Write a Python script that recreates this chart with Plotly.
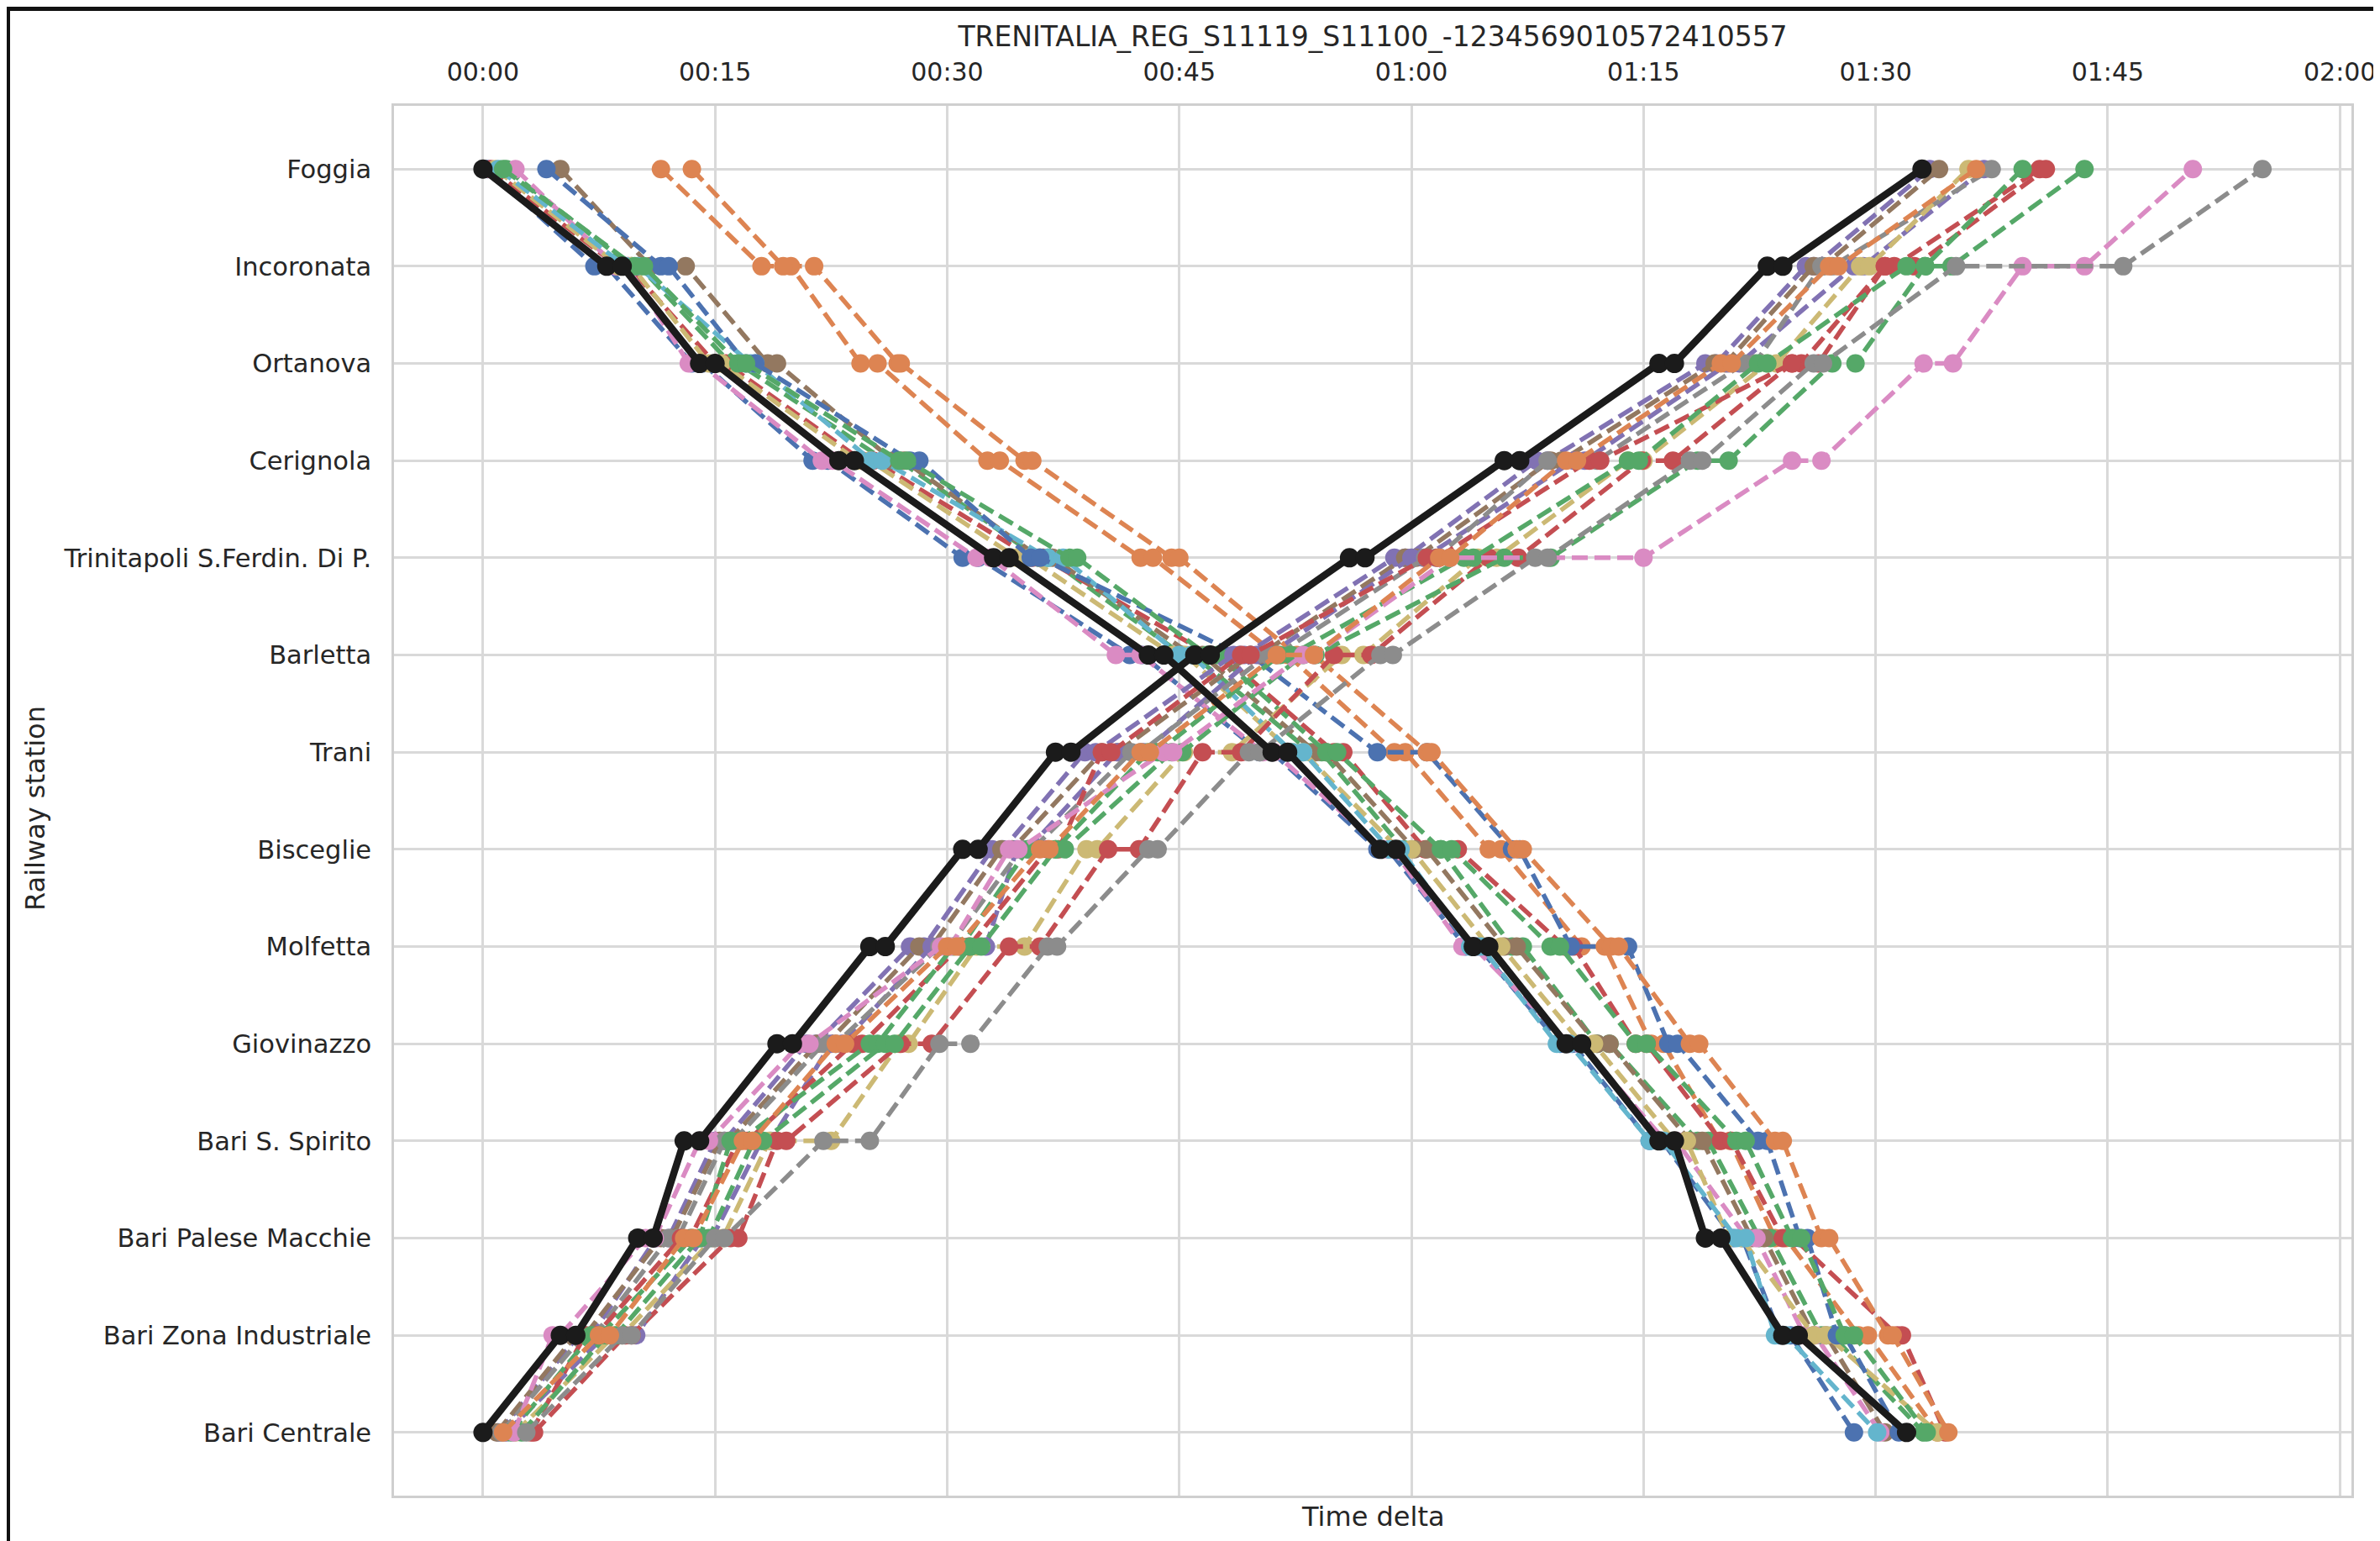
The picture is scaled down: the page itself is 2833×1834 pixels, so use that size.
import plotly.graph_objects as go

# ---------------- data ----------------
stations = ["Foggia", "Incoronata", "Ortanova", "Cerignola", "Trinitapoli S.Ferdin. Di P.",
            "Barletta", "Trani", "Bisceglie", "Molfetta", "Giovinazzo", "Bari S. Spirito",
            "Bari Palese Macchie", "Bari Zona Industriale", "Bari Centrale"]

tick_minutes = [0, 15, 30, 45, 60, 75, 90, 105, 120]
tick_labels = ["00:00", "00:15", "00:30", "00:45", "01:00", "01:15", "01:30", "01:45", "02:00"]

# Southbound (Foggia -> Bari Centrale), minutes [arr, dep] per station
sb_black = [[0], [8, 9], [14, 15], [23, 24], [33, 34], [43, 44], [51, 52], [58, 59], [64, 65], [70, 71], [76, 77], [79, 80], [84, 85], [92]]
sb_blue_a = [[0.3], [7.2, 8.0], [13.5, 14.2], [21.3, 22.3], [31.0, 32.0], [41.8, 42.6], [50.2, 51.0], [57.8, 58.5], [63.5, 64.3], [69.6, 70.4], [75.4, 76.2], [80.8, 81.4], [83.8, 84.5], [88.6]]
sb_olive = [[0.8], [8.8, 9.6], [14.6, 15.4], [24.2, 25.0], [34.5, 35.3], [44.6, 45.4], [52.3, 53.0], [59.2, 60.0], [65.0, 65.8], [71.0, 71.8], [77.0, 77.8], [80.5, 81.3], [86.0, 86.8], [94.0]]
sb_green_a = [[1.5], [9.6, 10.1], [16.0, 16.5], [26.0, 26.9], [35.9, 36.5], [45.2, 45.9], [53.5, 54.2], [59.5, 61.9], [66.5, 67.2], [72.0, 72.8], [78.5, 79.2], [82.5, 83.2], [86.5, 87.2], [93.1]]
sb_green_b = [[1.3], [9.8, 10.4], [16.5, 17.0], [26.9, 27.4], [37.9, 38.4], [46.8, 47.5], [54.5, 55.2], [61.9, 62.6], [69.0, 69.6], [74.5, 75.2], [81.0, 81.6], [84.6, 85.2], [88.0, 88.6], [93.3]]
sb_pink = [[2.1], [8.6, 9.3], [13.3, 14.0], [21.9, 22.6], [31.9, 32.8], [40.9, 42.5], [50.4, 51.1], [58.2, 58.8], [63.3, 64.0], [70.2, 70.9], [76.4, 77.1], [81.7, 82.3], [85.4, 86.1], [90.3]]
sb_blue_b = [[4.1], [11.5, 12.0], [17.0, 17.6], [27.6, 28.2], [35.4, 36.0], [48.9, 49.6], [57.8, 61.0], [66.5, 67.0], [70.3, 74.0], [76.6, 77.2], [82.4, 83.0], [85.1, 85.6], [87.5, 88.0], [91.5]]
sb_brown = [[5.0], [10.8, 13.1], [18.4, 19.0], [26.5, 27.2], [36.0, 36.8], [45.8, 46.5], [53.8, 54.5], [60.2, 61.0], [66.0, 66.8], [72.0, 72.8], [78.0, 78.8], [82.0, 82.8], [86.0, 86.8], [90.6]]
sb_orange_a = [[11.5], [18.0, 19.9], [24.4, 25.5], [32.6, 33.4], [42.5, 43.3], [51.3, 52.0], [58.9, 59.6], [65.0, 65.8], [71.0, 72.5], [75.5, 76.3], [79.9, 80.6], [83.5, 84.2], [88.9, 89.5], [94.0]]
sb_orange_b = [[13.5], [19.4, 21.4], [26.8, 27.0], [35.0, 35.5], [44.5, 45.0], [52.6, 53.7], [61.0, 61.3], [66.8, 67.2], [72.9, 73.4], [78.0, 78.6], [83.5, 84.0], [86.5, 87.0], [90.8, 91.1], [94.7]]
sb_red = [[0.5], [8.7, 9.4], [15.0, 15.7], [24.5, 25.2], [35.5, 36.2], [47.0, 47.8], [55.0, 55.6], [60.9, 63.0], [69.9, 70.5], [74.5, 75.2], [80.0, 80.7], [84.0, 84.7], [91.4, 91.7], [94.5]]
sb_cyan = [[1.0], [9.2, 10.0], [17.3, 17.6], [25.1, 25.8], [36.5, 37.5], [45.0, 45.8], [52.3, 53.0], [58.6, 59.3], [63.8, 64.5], [69.4, 70.2], [75.4, 76.3], [81.0, 81.6], [83.5, 84.2], [90.1]]

# Northbound (Bari Centrale -> Foggia), minutes [arr, dep] per station in travel order
nb_black = [[0], [5, 6], [10, 11], [13, 14], [19, 20], [25, 26], [31, 32], [37, 38], [46, 47], [56, 57], [66, 67], [76, 77], [83, 84], [93]]
nb_purple_a = [[1.0], [6.2, 7.0], [11.2, 12.0], [15.0, 15.6], [20.9, 21.5], [27.6, 28.5], [32.9, 33.6], [38.9, 39.6], [48.5, 49.2], [58.9, 59.6], [68.1, 68.8], [79.0, 79.7], [85.5, 86.0], [93.5]]
nb_brown = [[0.9], [6.0, 6.6], [11.5, 12.2], [15.3, 15.9], [21.6, 22.2], [28.2, 29.0], [33.5, 34.2], [40.0, 41.0], [49.6, 50.2], [59.6, 60.3], [69.0, 69.7], [79.6, 80.3], [86.0, 86.6], [94.1]]
nb_purple_b = [[1.5], [7.9, 9.9], [14.2, 14.8], [18.0, 18.6], [22.5, 23.2], [29.0, 32.5], [34.5, 35.2], [41.0, 42.7], [50.0, 50.8], [60.0, 60.8], [70.5, 71.2], [80.5, 81.2], [88.6, 89.2], [97.0]]
nb_gray_a = [[1.2], [6.5, 7.2], [12.0, 12.6], [15.6, 16.2], [22.0, 22.8], [29.5, 30.1], [34.8, 35.5], [41.9, 42.5], [50.7, 51.3], [60.9, 61.6], [68.8, 72.0], [81.5, 82.2], [86.5, 87.2], [97.5]]
nb_olive = [[2.1], [8.5, 9.0], [14.9, 15.5], [18.5, 22.5], [26.9, 27.5], [31.9, 35.0], [39.0, 39.7], [45.3, 48.4], [55.5, 56.9], [64.3, 65.5], [74.0, 75.0], [83.0, 83.6], [89.0, 89.6], [96.0]]
nb_red_a = [[3.1], [6.6, 7.3], [12.8, 13.4], [16.5, 17.1], [23.9, 24.5], [30.8, 31.4], [36.5, 37.2], [40.0, 40.6], [49.0, 49.6], [61.0, 61.7], [71.5, 72.2], [84.6, 85.2], [90.6, 91.2], [100.6]]
nb_red_b = [[3.3], [9.2, 9.6], [16.0, 16.5], [19.0, 19.6], [27.0, 29.0], [34.0, 36.0], [40.4, 42.4], [46.5, 49.0], [55.0, 57.4], [65.0, 66.9], [74.9, 76.9], [84.6, 86.3], [90.6, 92.5], [101.0]]
nb_green_a = [[1.8], [7.0, 7.6], [13.5, 14.0], [16.0, 16.6], [25.0, 25.5], [30.4, 30.9], [35.2, 37.0], [43.0, 43.6], [51.5, 52.2], [63.4, 64.0], [74.0, 74.7], [82.4, 83.0], [92.0, 93.2], [99.5]]
nb_green_b = [[2.5], [8.0, 8.6], [14.0, 14.6], [17.5, 18.1], [26.0, 26.6], [31.5, 32.2], [37.0, 37.6], [44.5, 45.2], [53.0, 53.8], [66.0, 69.0], [78.5, 80.5], [87.2, 88.7], [93.2, 94.9], [103.5]]
nb_pink = [[2.0], [4.5, 5.0], [10.5, 11.1], [14.0, 14.6], [20.5, 21.1], [29.6, 30.2], [34.0, 34.6], [44.0, 44.6], [53.0, 53.7], [62.5, 75.0], [84.6, 86.5], [93.1, 95.0], [99.5, 103.5], [110.5]]
nb_gray_b = [[2.8], [9.0, 9.6], [15.0, 15.6], [22.0, 25.0], [29.5, 31.5], [36.5, 37.1], [43.0, 43.6], [49.5, 50.2], [58.0, 58.8], [68.0, 68.8], [78.0, 78.8], [86.0, 86.6], [95.2, 106.0], [115.0]]
nb_orange = [[1.3], [7.5, 8.2], [13.0, 13.6], [16.8, 17.4], [22.8, 23.4], [30.0, 30.6], [36.0, 36.6], [42.5, 43.1], [51.3, 53.7], [61.8, 62.5], [70.0, 70.7], [80.0, 80.7], [87.0, 87.6], [96.5]]

# ---------------- styling ----------------
C = {"blue": "#4C72B0", "orange": "#DD8452", "green": "#55A868", "red": "#C44E52",
     "purple": "#8172B3", "brown": "#937860", "pink": "#DA8BC3", "gray": "#8C8C8C",
     "olive": "#CCB974", "cyan": "#64B5CD", "black": "#1b1b1b"}

sb_dashed = [(sb_blue_a, "blue"), (sb_orange_a, "orange"), (sb_green_a, "green"), (sb_red, "red"),
             (sb_brown, "brown"), (sb_pink, "pink"), (sb_olive, "olive"), (sb_cyan, "cyan"),
             (sb_blue_b, "blue"), (sb_orange_b, "orange"), (sb_green_b, "green")]
nb_dashed = [(nb_purple_a, "purple"), (nb_brown, "brown"), (nb_purple_b, "purple"), (nb_gray_a, "gray"),
             (nb_olive, "olive"), (nb_red_a, "red"), (nb_red_b, "red"), (nb_green_a, "green"),
             (nb_green_b, "green"), (nb_pink, "pink"), (nb_gray_b, "gray"), (nb_orange, "orange")]


def build(times, order):
    xs, ys = [], []
    for st, tt in zip(order, times):
        for t in tt:
            xs.append(t)
            ys.append(st)
    return xs, ys


sb_order = list(range(len(stations)))
nb_order = list(reversed(range(len(stations))))

DASH_W, MK = 5.5, 22
fig = go.Figure()
for times, col in sb_dashed:
    x, y = build(times, sb_order)
    fig.add_trace(go.Scatter(x=x, y=y, mode="lines+markers",
                             line=dict(color=C[col], width=DASH_W, dash="19px,8px"),
                             marker=dict(color=C[col], size=MK)))
for times, col in nb_dashed:
    x, y = build(times, nb_order)
    fig.add_trace(go.Scatter(x=x, y=y, mode="lines+markers",
                             line=dict(color=C[col], width=DASH_W, dash="19px,8px"),
                             marker=dict(color=C[col], size=MK)))
for times, order in [(sb_black, sb_order), (nb_black, nb_order)]:
    x, y = build(times, order)
    fig.add_trace(go.Scatter(x=x, y=y, mode="lines+markers",
                             line=dict(color=C["black"], width=8.5),
                             marker=dict(color=C["black"], size=23)))

W, H = 2833, 1834
L, R, T, B = 461, 42, 118, 62
pw, ph = W - L - R, H - T - B
grid = "#d9d9d9"
frame = "#cfcfcf"
txt = "#262626"
font = "DejaVu Sans"

fig.update_layout(
    width=W, height=H, autosize=False,
    margin=dict(l=L, r=R, t=T, b=B),
    paper_bgcolor="white", plot_bgcolor="white",
    showlegend=False,
    font=dict(family=font, color=txt),
    title=dict(text="TRENITALIA_REG_S11119_S11100_-1234569010572410557",
               font=dict(size=33, color=txt, family=font),
               x=(L + pw / 2) / W, xanchor="center",
               y=1 - 35 / H, yanchor="middle", xref="container", yref="container"),
    xaxis=dict(side="top", range=[-5.75, 120.75], tickvals=tick_minutes, ticktext=tick_labels,
               showgrid=True, gridcolor=grid, gridwidth=2.5, zeroline=False,
               showline=True, mirror=True, linecolor=frame, linewidth=2.5,
               ticks="outside", ticklen=15, tickcolor="rgba(0,0,0,0)",
               tickfont=dict(size=30, color=txt, family=font)),
    yaxis=dict(range=[13.65, -0.65], tickvals=list(range(len(stations))), ticktext=stations,
               showgrid=True, gridcolor=grid, gridwidth=2.5, zeroline=False,
               showline=True, mirror=True, linecolor=frame, linewidth=2.5,
               ticks="outside", ticklen=18, tickcolor="rgba(0,0,0,0)",
               tickfont=dict(size=30.5, color=txt, family=font)),
    annotations=[
        dict(text="Time delta", xref="paper", yref="paper", x=0.5, y=-(1797 - (H - B)) / ph,
             xanchor="center", yanchor="middle", showarrow=False,
             font=dict(size=32, color=txt, family=font)),
        dict(text="Railway station", xref="paper", yref="paper", x=(34 - L) / pw, y=0.5 - (954 - (T + ph / 2)) / ph,
             xanchor="center", yanchor="middle", textangle=-90, showarrow=False,
             font=dict(size=32, color=txt, family=font)),
    ],
    shapes=[
        dict(type="rect", xref="paper", yref="paper", x0=-L / pw, x1=(W - L) / pw,
             y0=1 + (T - 5) / ph, y1=1 + T / ph, fillcolor="#111111", line=dict(width=0), layer="above"),
        dict(type="rect", xref="paper", yref="paper", x0=-L / pw, x1=(4 - L) / pw,
             y0=-B / ph, y1=1 + T / ph, fillcolor="#111111", line=dict(width=0), layer="above"),
    ],
)

fig.write_html("out.html")
